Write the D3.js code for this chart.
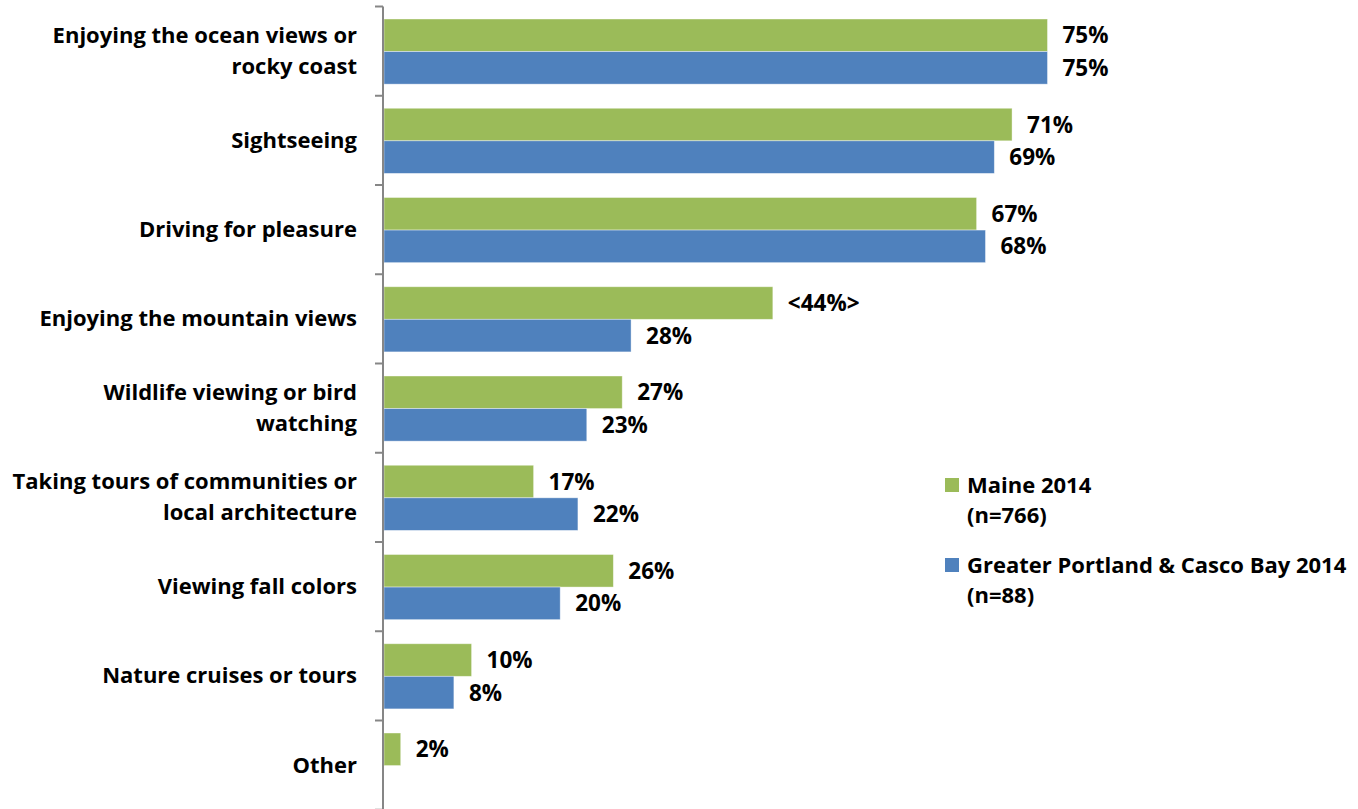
<!DOCTYPE html>
<html>
<head>
<meta charset="utf-8">
<script src="https://cdn.jsdelivr.net/npm/d3@7"></script>
<style>
  html, body { margin: 0; padding: 0; background: #fff; }
  svg { display: block; }
  text { font-family: "Open Sans", Lato, sans-serif; font-weight: bold; fill: #000; }
</style>
</head>
<body>
<svg id="chart" width="1358" height="809"></svg>
<script>
// Activity categories (each entry is a list of label lines)
const categories = [
  ["Enjoying the ocean views or", "rocky coast"],
  ["Sightseeing"],
  ["Driving for pleasure"],
  ["Enjoying the mountain views"],
  ["Wildlife viewing or bird", "watching"],
  ["Taking tours of communities or", "local architecture"],
  ["Viewing fall colors"],
  ["Nature cruises or tours"],
  ["Other"]
];
const seriesNames = ["Maine 2014", "Greater Portland & Casco Bay 2014"];
const seriesNotes = ["(n=766)", "(n=88)"];
const maineValues = [75, 71, 67, 44, 27, 17, 26, 10, 2];
const portlandValues = [75, 69, 68, 28, 23, 22, 20, 8, null];
const maineLabels = ["75%", "71%", "67%", "<44%>", "27%", "17%", "26%", "10%", "2%"];
const portlandLabels = ["75%", "69%", "68%", "28%", "23%", "22%", "20%", "8%", ""];
const colors = ["#9BBB59", "#4F81BD"];

const svg = d3.select("#chart");
const axisX = 383;

const y = d3.scaleBand()
  .domain(d3.range(categories.length))
  .range([6.5, 809.75])
  .padding(0);

const bw = y.bandwidth();
const ySeries = d3.scaleBand()
  .domain([0, 1])
  .range([bw * 0.14, bw * 0.87])
  .padding(0);

const x = d3.scaleLinear().domain([0, 75]).range([axisX, 1047.5]);

const rows = categories.map((c, i) => ({
  i,
  values: [maineValues[i], portlandValues[i]],
  labels: [maineLabels[i], portlandLabels[i]]
}));

// Bars
const groups = svg.selectAll("g.row").data(rows).join("g")
  .attr("class", "row")
  .attr("transform", d => `translate(0,${y(d.i)})`);

groups.selectAll("rect")
  .data(d => d.values.map((v, s) => ({ v, s })).filter(e => e.v != null))
  .join("rect")
  .attr("x", x(0) + 1)
  .attr("y", e => ySeries(e.s))
  .attr("width", e => x(e.v) - x(0) - 1)
  .attr("height", ySeries.bandwidth())
  .attr("fill", e => colors[e.s])
  .attr("stroke", "rgba(255,255,255,0.5)")
  .attr("stroke-width", 0.8);

// Value labels
groups.selectAll("text.val")
  .data(d => d.values.map((v, s) => ({ v, s, label: d.labels[s] })).filter(e => e.v != null))
  .join("text")
  .attr("class", "val")
  .attr("x", e => x(e.v) + 15)
  .attr("y", e => ySeries(e.s) + ySeries.bandwidth() / 2)
  .attr("dy", "0.36em")
  .attr("font-size", 22.5)
  .text(e => e.label);

// Category axis
const axis = d3.axisLeft(y).tickSize(0).tickFormat("");
const axisG = svg.append("g").attr("transform", `translate(${axisX},0)`).call(axis);
axisG.select(".domain").remove();
axisG.append("line")
  .attr("x1", 0).attr("x2", 0)
  .attr("y1", y.range()[0]).attr("y2", 809)
  .attr("stroke", "#868686").attr("stroke-width", 2);
const tickPos = d3.range(categories.length + 1).map(i => y.range()[0] + i * bw);
axisG.selectAll("line.tk").data(tickPos).join("line")
  .attr("class", "tk")
  .attr("x1", -8).attr("x2", 0)
  .attr("y1", d => d).attr("y2", d => d)
  .attr("stroke", "#868686").attr("stroke-width", 2);

// Category labels
const lineH = 31;
svg.selectAll("text.cat").data(rows).join("text")
  .attr("class", "cat")
  .attr("text-anchor", "end")
  .attr("font-size", 22)
  .attr("x", 357)
  .attr("y", d => y(d.i) + bw / 2)
  .each(function (d) {
    const lines = categories[d.i];
    const t = d3.select(this);
    lines.forEach((ln, k) => {
      t.append("tspan")
        .attr("x", 357)
        .attr("dy", k === 0 ? `${(-(lines.length - 1) * lineH / 2) + 7.5}` : lineH)
        .text(ln);
    });
  });

// Legend
const legend = svg.append("g");
const legendY = [485, 565];
seriesNames.forEach((name, s) => {
  legend.append("rect")
    .attr("x", 945).attr("y", legendY[s] - 7)
    .attr("width", 14).attr("height", 14)
    .attr("fill", colors[s]);
  const t = legend.append("text")
    .attr("x", 967).attr("y", legendY[s] + 8)
    .attr("font-size", 22);
  t.append("tspan").attr("x", 967).text(name);
  t.append("tspan").attr("x", 967).attr("dy", 30).text(seriesNotes[s]);
});
</script>
</body>
</html>
